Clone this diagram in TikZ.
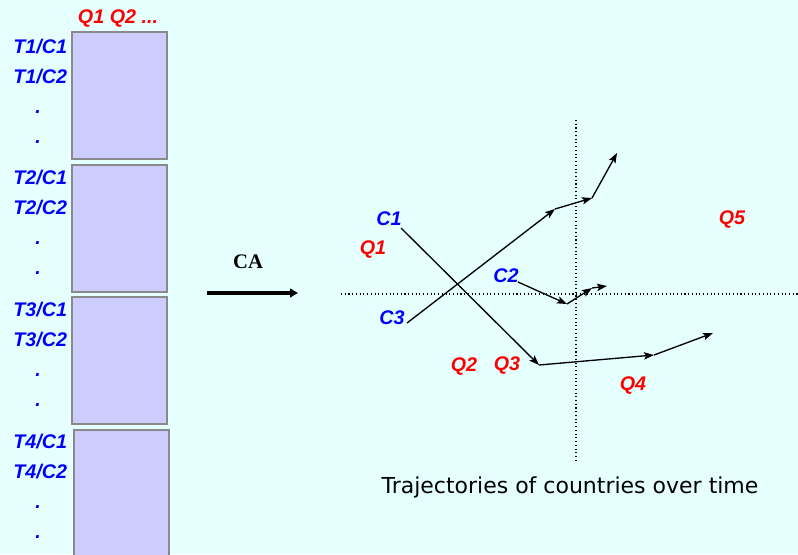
\documentclass[tikz,border=0pt]{standalone}
\usepackage{fontspec}
\setmainfont{Liberation Serif}
\newfontfamily\tagfont{Liberation Sans}
\newfontfamily\capfont{DejaVu Sans}
\usetikzlibrary{arrows.meta,positioning}
\definecolor{pageCyan}{HTML}{E6FFFF}
\definecolor{panelLilac}{HTML}{CCCCFF}
\definecolor{panelEdge}{HTML}{8A8A8A}
\definecolor{qRed}{HTML}{FF0000}
\definecolor{cBlue}{HTML}{0000FF}

\begin{document}
\begin{tikzpicture}[x=0.75pt, y=-0.75pt,
    every node/.style={inner sep=0pt, outer sep=0pt},
    panel/.style={draw=panelEdge, line width=1.3pt, fill=panelLilac, minimum width=71.25pt, minimum height=95.25pt},
    rowtag/.style={font=\tagfont\bfseries\itshape\fontsize{14.8}{17}\selectfont, text=cBlue},
    qtag/.style={font=\tagfont\bfseries\itshape\fontsize{14.8}{17}\selectfont, text=qRed},
    traj/.style={-{Stealth[length=7.5pt, width=5.5pt, inset=1.5pt]}, line width=1pt},
    axisline/.style={dotted, line width=0.8pt}]
    \useasboundingbox (0,0) rectangle (798,554);
    \fill[pageCyan] (0,0) rectangle (798,554);

    % data matrix, one panel per period
    \node[panel, anchor=north west] (t1) at (72,32) {};
    \node[panel, below=4.5pt of t1] (t2) {};
    \node[panel, below=4pt of t2] (t3) {};
    \node[panel, below=4.5pt of t3, xshift=1.5pt, minimum height=100pt] (t4) {};
    \node[qtag] (qhead) at (118,19) {Q1 Q2 ...};
    \foreach \t/\y in {1/47, 2/178, 3/310, 4/442} {
      \node[rowtag, anchor=east] (tag\t a) at (67,\y) {T\t/C1};
      \node[rowtag, anchor=east] (tag\t b) at (67,\y+30) {T\t/C2};
      \node[rowtag, anchor=base] (dot\t a) at (38,\y+66) {.};
      \node[rowtag, anchor=base] (dot\t b) at (38,\y+96) {.};
    }

    % CA step
    \coordinate (caL) at (207,293);
    \coordinate (caR) at (298,293);
    \draw[-{Triangle[length=6pt, width=6.5pt]}, line width=2.4pt] (caL) -- (caR);
    \node[font=\bfseries\fontsize{15.5}{18}\selectfont, anchor=base] (ca) at (248,268) {CA};

    % axes of the map
    \coordinate (axL) at (341,294);
    \coordinate (axR) at (798,294);
    \coordinate (axT) at (576,120);
    \coordinate (axB) at (576,462);
    \draw[axisline] (axL) -- (axR);
    \draw[axisline] (axT) -- (axB);

    % labels on the map
    \node[rowtag] (c1) at (389,219) {C1};
    \node[rowtag] (c2) at (506,276) {C2};
    \node[rowtag] (c3) at (392,318) {C3};
    \node[qtag] (q1) at (373,250) {Q1};
    \node[qtag] (q2) at (464,367) {Q2};
    \node[qtag] (q3) at (507,366) {Q3};
    \node[qtag] (q4) at (633,386) {Q4};
    \node[qtag] (q5) at (732,220) {Q5};

    % trajectories
    \coordinate (c1p0) at (401,228);
    \coordinate (c1p1) at (539,365);
    \coordinate (c1p2) at (654,355);
    \coordinate (c1p3) at (713,333);
    \coordinate (c2p0) at (518,282);
    \coordinate (c2p1) at (567,304);
    \coordinate (c2p2) at (592,288);
    \coordinate (c2p3) at (607,286);
    \coordinate (c3p0) at (407,323);
    \coordinate (c3p1) at (555,209);
    \coordinate (c3p2) at (592,198);
    \coordinate (c3p3) at (617,153);
    \foreach \c in {c1,c2,c3} {
      \draw[traj] (\c p0) -- (\c p1);
      \draw[traj] (\c p1) -- (\c p2);
      \draw[traj] (\c p2) -- (\c p3);
    }

    \node[font=\capfont\fontsize{16.5}{19}\selectfont, anchor=base] (caption) at (570,493) {Trajectories of countries over time};
  \end{tikzpicture}
\end{document}
